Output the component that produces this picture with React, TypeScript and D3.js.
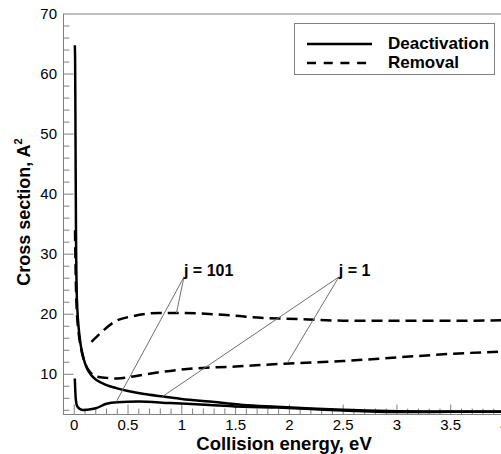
import React from "react";
import * as d3 from "d3";

// Deactivation (solid) and removal (dashed) cross sections, A^2, vs collision energy, eV
const deactJ1X = [0.005, 0.008, 0.012, 0.016, 0.025, 0.05, 0.075, 0.1, 0.17, 0.21, 0.3, 0.39, 0.5, 0.65, 0.83, 1.0, 1.26, 1.57, 1.88, 2.2, 2.5, 3.0, 3.5, 4.0];
const deactJ1Y = [64.8, 62.5, 48, 34, 22.4, 16.2, 13.5, 11.8, 9.6, 9.0, 8.2, 7.7, 7.2, 6.7, 6.3, 5.9, 5.45, 4.9, 4.6, 4.3, 4.1, 3.85, 3.8, 3.75];

const deactJ101X = [0.005, 0.015, 0.03, 0.08, 0.12, 0.2, 0.3, 0.4, 0.6, 0.89, 1.26, 1.57, 1.89, 2.2, 2.5, 3.0, 3.5, 4.0];
const deactJ101Y = [9.3, 5.7, 4.6, 4.05, 4.1, 4.33, 5.1, 5.35, 5.45, 5.2, 4.9, 4.6, 4.45, 4.2, 3.95, 3.7, 3.75, 3.8];

const removJ1X = [0.007, 0.012, 0.02, 0.04, 0.06, 0.1, 0.15, 0.21, 0.3, 0.4, 0.5, 0.7, 1.0, 1.5, 2.0, 2.5, 3.0, 3.5, 4.0];
const removJ1Y = [34, 28, 22, 17, 14.6, 11.8, 10.3, 9.6, 9.4, 9.3, 9.5, 10.1, 10.8, 11.3, 11.8, 12.2, 12.8, 13.4, 13.8];

const removJ101X = [0.16, 0.24, 0.38, 0.55, 0.79, 1.0, 1.3, 1.54, 1.64, 2.1, 2.57, 3.04, 3.5, 4.0];
const removJ101Y = [15.4, 16.8, 18.8, 19.7, 20.2, 20.2, 20.0, 19.7, 19.5, 19.2, 18.9, 18.9, 18.9, 19.0];

const xTicks = [0, 0.5, 1, 1.5, 2, 2.5, 3, 3.5, 4];
const yTicks = [10, 20, 30, 40, 50, 60, 70];

// annotation labels: anchor and the points the leaders go to (data units)
const labels = [
  { text: "j = 101", at: [1.02, 26.2], to: [[0.39, 5.4], [0.95, 20.2]] },
  { text: "j = 1", at: [2.46, 26.2], to: [[0.82, 6.3], [1.98, 11.85]] },
];

const W = 501;
const H = 454;
const left = 63.5;
const right = 504.5;
const top = 14;
const bottom = 414.5;
const font = "'Liberation Sans', Arial, sans-serif";
const axisGray = "#808080";

const zip = (xs: number[], ys: number[]) => xs.map((x, i) => [x, ys[i]] as [number, number]);

export default function App() {
  const x = d3.scaleLinear().domain([-0.1, 4.0]).range([left, right]);
  const y = d3.scaleLinear().domain([3.3, 70]).range([bottom, top]);

  const line = d3
    .line<[number, number]>()
    .x((d) => x(d[0]))
    .y((d) => y(d[1]))
    .curve(d3.curveMonotoneX);

  const series = [
    { data: zip(deactJ1X, deactJ1Y), dash: null },
    { data: zip(deactJ101X, deactJ101Y), dash: null },
    { data: zip(removJ1X, removJ1Y), dash: "11,6" },
    { data: zip(removJ101X, removJ101Y), dash: "11,6" },
  ];

  const xMinor = d3.range(0, 41).map((i) => i / 10);
  const yMinor = d3.range(4, 70, 2);

  return (
    <svg width={W} height={H} style={{ position: "absolute", left: 0, top: 0, background: "#fff" }}>
      <defs>
        <clipPath id="plot">
          <rect x={left} y={top} width={right - left} height={bottom - top} />
        </clipPath>
      </defs>

      {/* ticks */}
      {xMinor.map((t) => {
        const major = Math.abs(Math.round(t * 2) - t * 2) < 1e-6;
        return (
          <line key={"xt" + t} x1={x(t)} x2={x(t)} y1={bottom} y2={bottom - (major ? 10 : 6)} stroke={axisGray} strokeWidth={1} />
        );
      })}
      {yMinor.map((t) => (
        <line key={"yt" + t} x1={left} x2={left + (t % 10 === 0 ? 10 : 6)} y1={y(t)} y2={y(t)} stroke={axisGray} strokeWidth={1} />
      ))}

      {/* frame */}
      <rect x={left} y={top} width={right - left} height={bottom - top} fill="none" stroke={axisGray} strokeWidth={1} />

      {/* tick labels */}
      {xTicks.map((t) => (
        <text key={"xl" + t} x={x(t)} y={429.5} textAnchor="middle" fontFamily={font} fontSize={15}>
          {t}
        </text>
      ))}
      {yTicks.map((t) => (
        <text key={"yl" + t} x={57} y={y(t) + 5} textAnchor="end" fontFamily={font} fontSize={15}>
          {t}
        </text>
      ))}

      {/* axis titles */}
      <text x={284} y={449.5} textAnchor="middle" fontFamily={font} fontSize={18.5} fontWeight="bold">
        Collision energy, eV
      </text>
      <text transform="translate(30,212) rotate(-90)" textAnchor="middle" fontFamily={font} fontSize={18} fontWeight="bold">
        Cross section, A<tspan fontSize={11} dy={-8}>2</tspan>
      </text>

      {/* curves */}
      <g clipPath="url(#plot)">
        {series.map((s, i) => (
          <path key={i} d={line(s.data) || ""} fill="none" stroke="#000" strokeWidth={2.5} strokeDasharray={s.dash || undefined} />
        ))}
      </g>

      {/* annotations */}
      {labels.map((l) => (
        <g key={l.text}>
          {l.to.map((p, i) => (
            <line key={i} x1={x(l.at[0])} y1={y(l.at[1])} x2={x(p[0])} y2={y(p[1])} stroke="#707070" strokeWidth={1} />
          ))}
          <text x={x(l.at[0])} y={y(l.at[1]) - 1} fontFamily={font} fontSize={16} fontWeight="bold">
            {l.text}
          </text>
        </g>
      ))}

      {/* legend */}
      <rect x={294.5} y={23.5} width={200} height={51} fill="#fff" stroke={axisGray} strokeWidth={1} />
      <line x1={307} x2={372} y1={44} y2={44} stroke="#000" strokeWidth={2.5} />
      <line x1={307} x2={372} y1={63} y2={63} stroke="#000" strokeWidth={2.5} strokeDasharray="9,7.7" />
      <text x={388} y={49} fontFamily={font} fontSize={17} fontWeight="bold">
        Deactivation
      </text>
      <text x={388} y={68} fontFamily={font} fontSize={17} fontWeight="bold">
        Removal
      </text>
    </svg>
  );
}
